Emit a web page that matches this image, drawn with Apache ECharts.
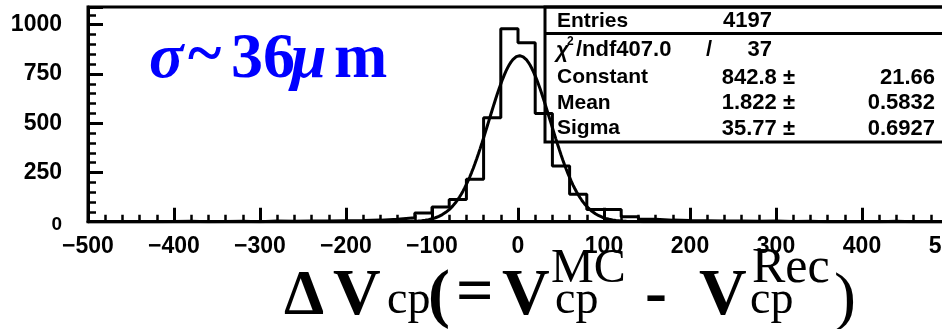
<!DOCTYPE html>
<html>
<head>
<meta charset="utf-8">
<script src="https://cdn.jsdelivr.net/npm/echarts@6/dist/echarts.min.js"></script>
<style>
  html, body { margin: 0; padding: 0; background: #fff; }
  #chart { width: 942px; height: 329px; }
</style>
</head>
<body>
<div id="chart"></div>
<script>
// Histogram of ΔVcp residuals: 50 bins of 20 µm from -500 to 500
const binStart = -500;
const binWidth = 20;
const counts = [
  0, 1, 0, 0, 1, 2, 0, 1, 2, 0, 3, 2, 4, 3, 5,          // -500 .. -200
  6, 8, 12, 20, 44, 75, 113, 215, 528, 980,             // -200 .. 0
  909, 549, 283, 139, 62, 62, 25, 12, 8, 6,             // 0 .. 200
  5, 3, 4, 2, 3, 1, 2, 0, 1, 0, 0, 2, 0, 1, 0           // 200 .. 500
];

// Gaussian fit result: Constant, Mean, Sigma
const fitParams = [842.8, 1.822, 35.77];

// Statistics box rows
const statLabels = ['Entries', '/ndf407.0', 'Constant', 'Mean', 'Sigma'];
const statValues = ['4197', '37', '842.8 \u00b1', '1.822 \u00b1', '35.77 \u00b1'];
const statErrors = ['', '', '21.66', '0.5832', '0.6927'];

const xTicks = { min: -500, max: 500, step: 100 };
const yTicks = { min: 0, max: 1090, step: 250 };

// Build step outline points from bin edges
const histPoints = counts.map((c, i) => [binStart + i * binWidth, c]);
histPoints.push([binStart + counts.length * binWidth, counts[counts.length - 1]]);

// Evaluate the fitted Gaussian across the axis range
const [fitC, fitMu, fitSigma] = fitParams;
const fitPoints = [];
for (let x = xTicks.min; x <= xTicks.max; x += 2) {
  fitPoints.push([x, fitC * Math.exp(-0.5 * Math.pow((x - fitMu) / fitSigma, 2))]);
}

const sans = 'Liberation Sans';
const serif = 'Liberation Serif';

function txt(text, x, y, size, opts = {}) {
  return {
    type: 'text', x, y, z: 100, silent: true,
    style: {
      text,
      fill: opts.fill || '#000',
      fontFamily: opts.family || sans,
      fontSize: size,
      fontWeight: opts.weight || 'bold',
      fontStyle: opts.style || 'normal',
      align: opts.align || 'left', textAlign: opts.align || 'left',
      verticalAlign: 'middle', textVerticalAlign: 'middle'
    }
  };
}

const rowY = [21, 50, 77.5, 103.3, 128.5];
const statGraphics = [
  { type: 'rect', z: 90, silent: true,
    shape: { x: 545, y: 7, width: 420, height: 135 },
    style: { fill: 'none', stroke: '#000', lineWidth: 3 } },
  { type: 'line', z: 90, silent: true,
    shape: { x1: 545, y1: 33.5, x2: 960, y2: 33.5 },
    style: { stroke: '#000', lineWidth: 3 } }
];
statLabels.forEach((label, i) => {
  if (i === 1) {
    statGraphics.push(txt('\u03c7', 556, rowY[i] + 1, 22, { style: 'italic' }));
    statGraphics.push(txt('2', 567, rowY[i] - 8, 12));
    statGraphics.push(txt(label, 576, rowY[i], 22));
    statGraphics.push(txt('/', 706, rowY[i], 22));
  } else {
    statGraphics.push(txt(label, 557, rowY[i], 21));
  }
  statGraphics.push(txt(statValues[i], i < 2 ? 772 : 795, rowY[i], 22, { align: 'right' }));
  if (statErrors[i]) statGraphics.push(txt(statErrors[i], 935, rowY[i], 22, { align: 'right' }));
});

// Axis title ΔVcp(=Vcp^MC - Vcp^Rec)
const titleGraphics = [
  txt('\u0394', 284, 297, 64, { family: serif }),
  txt('V', 333, 297, 66, { family: serif }),
  txt('cp', 387, 301, 46, { family: serif, weight: 'normal' }),
  txt('(', 428, 298, 66, { family: serif }),
  txt('=', 456, 295, 66, { family: serif }),
  txt('V', 502, 297, 66, { family: serif }),
  txt('cp', 555, 301, 46, { family: serif, weight: 'normal' }),
  txt('MC', 551, 269, 48, { family: serif, weight: 'normal' }),
  txt('-', 645, 297, 66, { family: serif }),
  txt('V', 699, 297, 66, { family: serif }),
  txt('cp', 750, 301, 46, { family: serif, weight: 'normal' }),
  txt('Rec', 752, 269, 50, { family: serif, weight: 'normal' }),
  txt(')', 834, 301, 66, { family: serif, weight: 'normal' })
];

// Resolution annotation σ~36μm
const blue = { family: serif, fill: '#0000ff' };
const sigmaGraphics = [
  txt('\u03c3', 149, 60, 64, { ...blue, style: 'italic' }),
  txt('~', 188, 57, 64, blue),
  txt('36', 231, 60, 64, blue),
  txt('\u03bc', 291, 60, 64, { ...blue, style: 'italic' }),
  txt('m', 334, 60, 64, blue)
];

const chart = echarts.init(document.getElementById('chart'), null, { renderer: 'canvas' });
chart.setOption({
  animation: false,
  backgroundColor: '#fff',
  grid: {
    left: 88, top: 7, width: 860, height: 214.7,
    containLabel: false, outerBoundsMode: 'none',
    show: true, borderColor: '#000', borderWidth: 3, backgroundColor: 'transparent'
  },
  xAxis: {
    type: 'value', min: xTicks.min, max: xTicks.max, interval: xTicks.step,
    axisLine: { show: true, onZero: false, lineStyle: { color: '#000', width: 3 } },
    axisTick: { show: true, inside: true, length: 14, lineStyle: { color: '#000', width: 3 } },
    minorTick: { show: true, splitNumber: 5, length: 7, lineStyle: { color: '#000', width: 2.5 } },
    splitLine: { show: false },
    axisLabel: {
      color: '#000', fontFamily: sans, fontWeight: 'bold', fontSize: 23, margin: 13,
      showMinLabel: true, showMaxLabel: true, hideOverlap: false,
      formatter: v => (v < 0 ? '\u2212' : '') + Math.abs(v)
    }
  },
  yAxis: {
    type: 'value', min: yTicks.min, max: yTicks.max, interval: yTicks.step,
    axisLine: { show: true, onZero: false, lineStyle: { color: '#000', width: 3 } },
    axisTick: { show: true, inside: true, length: 15, lineStyle: { color: '#000', width: 3 } },
    minorTick: { show: true, splitNumber: 5, length: 8, lineStyle: { color: '#000', width: 2.5 } },
    splitLine: { show: false },
    axisLabel: {
      color: '#000', fontFamily: sans, fontWeight: 'bold', fontSize: 23, margin: 26,
      showMaxLabel: false,
      formatter: v => (v === 0 ? '{z|0}' : String(v)),
      rich: { z: { fontFamily: sans, fontWeight: 'bold', fontSize: 19, color: '#000', padding: [6, 0, 0, 0] } }
    }
  },
  series: [
    {
      type: 'line', data: histPoints, step: 'end', showSymbol: false, symbol: 'none',
      lineStyle: { color: '#000', width: 3 }, z: 5, clip: true
    },
    {
      type: 'line', data: fitPoints, smooth: false, showSymbol: false, symbol: 'none',
      lineStyle: { color: '#000', width: 3 }, z: 6, clip: true
    }
  ],
  graphic: [...statGraphics, ...titleGraphics, ...sigmaGraphics]
});
</script>
</body>
</html>
